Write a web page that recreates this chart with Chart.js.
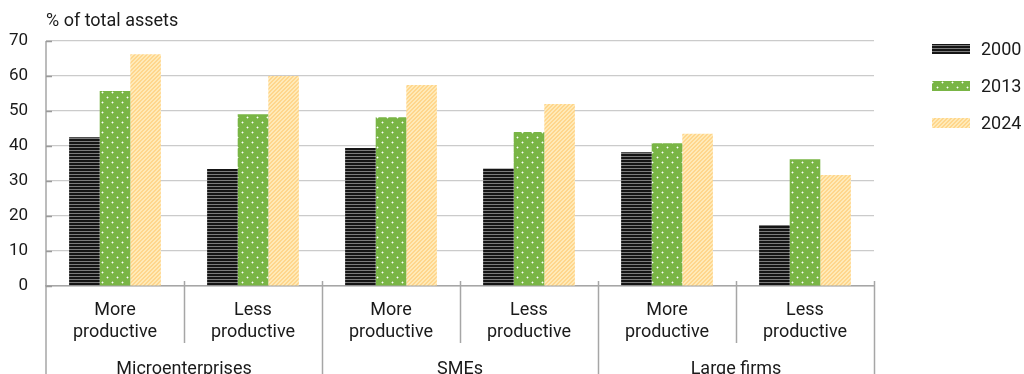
<!DOCTYPE html>
<html>
<head>
<meta charset="utf-8">
<script src="https://cdn.jsdelivr.net/npm/chart.js@4/dist/chart.umd.min.js"></script>
<style>
  html, body { margin: 0; padding: 0; background: #ffffff; }
  #wrap { width: 1024px; height: 374px; position: relative; overflow: hidden; }
</style>
</head>
<body>
<div id="wrap"><canvas id="chart" width="1024" height="374"></canvas></div>
<script>
// Share of total assets held by firms, by size class and productivity
const categories = [
  ['More', 'productive'], ['Less', 'productive'],
  ['More', 'productive'], ['Less', 'productive'],
  ['More', 'productive'], ['Less', 'productive']
];
const groups = ['Microenterprises', 'SMEs', 'Large firms'];
const years = ['2000', '2013', '2024'];
const values2000 = [42.5, 33.4, 39.4, 33.6, 38.2, 17.4];
const values2013 = [55.7, 49.1, 48.2, 44.0, 40.8, 36.2];
const values2024 = [66.2, 60.0, 57.4, 52.0, 43.5, 31.7];
const yMin = 0, yMax = 70, yStep = 10;
const unitLabel = '% of total assets';

const FONT = 'Roboto, "Liberation Sans", Arial, sans-serif';
const TEXT = '#1a1a1a';
const AXIS = '#a6a6a6';
const GRID = '#cbcbcb';

function makeTile(w, h, paint) {
  const c = document.createElement('canvas');
  c.width = w; c.height = h;
  const g = c.getContext('2d');
  paint(g);
  return document.createElement('canvas').getContext('2d').createPattern(c, 'repeat');
}

// 2000: black with fine grey horizontal rules
const fill2000 = makeTile(3, 3, g => {
  g.fillStyle = '#151515'; g.fillRect(0, 0, 3, 3);
  g.fillStyle = '#7c7c7c'; g.fillRect(0, 0, 3, 1);
});
// 2013: green with small white dots on a staggered grid
const fill2013 = makeTile(10, 10, g => {
  g.fillStyle = '#79b545'; g.fillRect(0, 0, 10, 10);
  const dot = (x, y) => {
    g.fillStyle = 'rgba(255,255,255,0.4)';
    g.fillRect(x - 1, y, 3, 1); g.fillRect(x, y - 1, 1, 3);
    g.fillStyle = '#ffffff'; g.fillRect(x, y, 1, 1);
  };
  dot(2, 2); dot(7, 7);
});
// 2024: pale orange with diagonal hatching
const fill2024 = makeTile(4, 4, g => {
  g.fillStyle = '#ffeab8'; g.fillRect(0, 0, 4, 4);
  g.fillStyle = '#ffd68c';
  for (let y = 0; y < 4; y++) for (let x = 0; x < 4; x++) {
    if ((x + y) % 4 === 0 || (x + y) % 4 === 1) g.fillRect(x, y, 1, 1);
  }
});

// Separators of the two-level category axis, inward ticks, unit label and legend
const frame = {
  id: 'frame',
  afterDraw(chart) {
    const ctx = chart.ctx;
    const area = chart.chartArea;
    const x = chart.scales.x;
    const y = chart.scales.y;
    const H = chart.height;
    const n = categories.length;
    const step = (x.right - x.left) / n;
    const perGroup = n / groups.length;
    ctx.save();
    ctx.strokeStyle = AXIS;
    ctx.lineWidth = 1.5;
    // left axis runs down through the label band
    ctx.beginPath();
    ctx.moveTo(area.left, area.top);
    ctx.lineTo(area.left, H);
    ctx.stroke();
    for (let i = 1; i <= n; i++) {
      const px = Math.round(x.left + i * step) + 0.5;
      const isGroup = i % perGroup === 0;
      ctx.beginPath();
      ctx.moveTo(px, area.bottom - 5);
      ctx.lineTo(px, isGroup ? H : x.bottom - 1);
      ctx.stroke();
    }
    // small inward ticks on the value axis
    ctx.strokeStyle = '#9a9a9a';
    y.ticks.forEach(t => {
      const py = Math.round(y.getPixelForValue(t.value)) + 0.5;
      ctx.beginPath();
      ctx.moveTo(area.left, py);
      ctx.lineTo(area.left + 6, py);
      ctx.stroke();
    });
    // unit label
    ctx.fillStyle = TEXT;
    ctx.font = '18px ' + FONT;
    ctx.textAlign = 'left';
    ctx.textBaseline = 'middle';
    ctx.fillText(unitLabel, area.left, 21);
    // legend
    const lx = area.right + 58;
    chart.data.datasets.forEach((ds, i) => {
      const ly = area.top + 3 + i * 37;
      ctx.fillStyle = ds.backgroundColor;
      ctx.fillRect(lx, ly, 38, 10);
      ctx.fillStyle = TEXT;
      ctx.font = '18px ' + FONT;
      ctx.fillText(ds.label, lx + 49, ly + 6);
    });
    ctx.restore();
  }
};

new Chart(document.getElementById('chart'), {
  type: 'bar',
  data: {
    labels: categories,
    datasets: [
      { label: years[0], data: values2000, backgroundColor: fill2000 },
      { label: years[1], data: values2013, backgroundColor: fill2013 },
      { label: years[2], data: values2024, backgroundColor: fill2024 }
    ]
  },
  options: {
    responsive: false,
    animation: false,
    devicePixelRatio: 1,
    layout: { padding: { left: 0, right: 150, top: 41, bottom: 0 } },
    datasets: { bar: { barPercentage: 1, categoryPercentage: 0.665, borderWidth: 0 } },
    plugins: { legend: { display: false }, tooltip: { enabled: false }, title: { display: false } },
    scales: {
      x: {
        position: 'bottom',
        weight: 0,
        grid: { display: false },
        border: { display: true, color: AXIS, width: 1.5 },
        ticks: { color: TEXT, font: { family: FONT, size: 18, lineHeight: 1.22 }, padding: 6, maxRotation: 0, autoSkip: false },
        afterFit: s => { s.height = 58; }
      },
      x2: {
        type: 'category',
        labels: groups,
        position: 'bottom',
        weight: 1,
        offset: true,
        grid: { display: false },
        border: { display: false },
        ticks: { color: TEXT, font: { family: FONT, size: 18, lineHeight: 1.22 }, padding: 7, maxRotation: 0, autoSkip: false },
        afterFit: s => { s.height = 30; }
      },
      y: {
        min: yMin,
        max: yMax,
        grid: { color: GRID, lineWidth: 1.2, drawTicks: false },
        border: { display: false },
        ticks: { stepSize: yStep, color: TEXT, font: { family: FONT, size: 17 }, padding: 18 },
        afterFit: s => { s.width = 46; }
      }
    }
  },
  plugins: [frame]
});
</script>
</body>
</html>
